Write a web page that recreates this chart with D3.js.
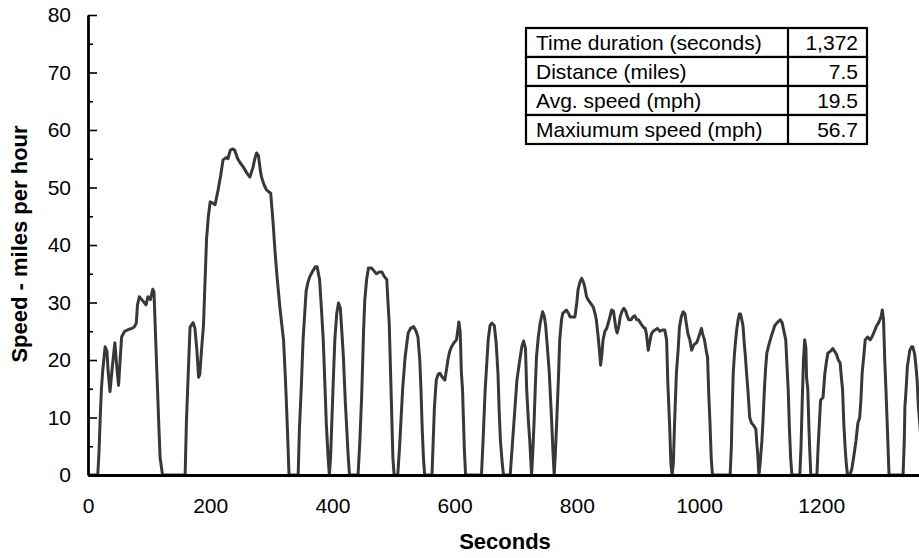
<!doctype html>
<html>
  <head>
    <meta charset="utf-8" />
    <title>Driving cycle speed trace</title>
    <style>
      body {
        margin: 0;
        background: #fff;
      }
      svg {
        display: block;
      }
      text {
        font-family: "Liberation Sans", Arial, sans-serif;
        fill: #000;
      }
    </style>
  </head>
  <body>
    <svg id="chart"></svg>
    <script src="https://d3js.org/d3.v7.min.js"></script>
    <script>
      // time (s) and speed (mph)
      const seconds = [
        0, 16, 18, 20, 22, 24, 28, 31, 33, 36, 40, 44, 47, 50, 52, 55, 60, 66,
        72, 76, 79, 81, 84, 88, 92, 95, 98, 102, 106, 108, 112, 116, 118, 122,
        159, 161, 164, 167, 172, 175, 178, 181, 183, 186, 189, 191, 194, 197,
        200, 204, 208, 213, 217, 221, 226, 229, 233, 237, 240, 245, 249, 254,
        260, 265, 270, 273, 276, 279, 282, 284, 288, 292, 299, 303, 306, 309,
        314, 320, 323, 325, 327, 329, 344, 346, 349, 352, 357, 360, 363, 368,
        372, 375, 379, 382, 385, 388, 390, 393, 395, 397, 399, 402, 404, 407,
        410, 413, 416, 418, 421, 423, 426, 428, 442, 445, 448, 451, 453, 456,
        459, 464, 468, 472, 477, 481, 485, 489, 491, 493, 496, 499, 501, 507,
        510, 512, 515, 519, 524, 528, 533, 537, 540, 543, 545, 547, 549, 551,
        563, 565, 567, 570, 573, 576, 580, 584, 587, 589, 592, 595, 599, 603,
        605, 607, 609, 610, 611, 613, 616, 618, 644, 647, 650, 653, 655, 658,
        661, 665, 668, 671, 673, 675, 678, 680, 691, 693, 695, 699, 702, 706,
        710, 713, 716, 718, 721, 723, 726, 728, 730, 732, 734, 737, 740, 744,
        747, 749, 752, 755, 759, 761, 763, 765, 767, 770, 772, 775, 777, 783,
        787, 789, 797, 800, 802, 805, 808, 811, 813, 816, 819, 823, 827, 830,
        832, 835, 837, 839, 841, 843, 846, 849, 853, 857, 860, 862, 864, 866,
        869, 871, 874, 877, 880, 882, 885, 889, 892, 895, 898, 901, 905, 909,
        912, 914, 917, 920, 922, 925, 928, 932, 936, 940, 944, 947, 949, 952,
        954, 956, 958, 960, 963, 966, 968, 971, 974, 977, 979, 982, 985, 988,
        991, 993, 996, 998, 1001, 1004, 1006, 1009, 1012, 1014, 1016, 1018,
        1020, 1022, 1051, 1053, 1054, 1056, 1058, 1060, 1062, 1064, 1066, 1068,
        1070, 1072, 1074, 1076, 1078, 1080, 1083, 1086, 1089, 1093, 1095, 1096,
        1098, 1100, 1103, 1105, 1107, 1109, 1111, 1114, 1118, 1121, 1124, 1128,
        1133, 1136, 1138, 1140, 1142, 1144, 1146, 1148, 1150, 1152, 1165, 1167,
        1169, 1171, 1173, 1175, 1176, 1178, 1180, 1181, 1183, 1193, 1195, 1197,
        1199, 1203, 1206, 1209, 1211, 1215, 1219, 1222, 1225, 1228, 1231, 1233,
        1235, 1237, 1239, 1241, 1243, 1247, 1250, 1253, 1257, 1260, 1263, 1265,
        1267, 1270, 1272, 1276, 1280, 1283, 1286, 1289, 1291, 1294, 1296, 1298,
        1300, 1302, 1304, 1306, 1308, 1309, 1311, 1334, 1336, 1337, 1339, 1341,
        1345, 1348, 1350, 1353, 1355, 1357, 1359, 1362, 1365, 1367, 1369,
      ];
      const speed = [
        0, 0, 4, 10, 15, 18, 22.3, 21.5, 18, 14.5, 19, 23, 19, 15.6, 19, 24,
        25, 25.3, 25.5, 25.8, 26.4, 29.6, 31, 30.5, 30, 29.6, 31, 30.5, 32.3,
        31.8, 20, 8.4, 3, 0, 0, 9, 17.5, 25.7, 26.5, 25.5, 22, 17, 17.5, 22, 26,
        32, 41, 45, 47.5, 47.3, 47, 49.6, 52, 54.8, 55.2, 55, 56.5, 56.7, 56.5,
        55, 54.3, 53.6, 52.5, 51.8, 53.5, 55, 56, 55.5, 53, 51.8, 50.5, 49.6,
        49, 43.8, 39, 35, 29.2, 23.5, 17, 11.8, 6, 0, 0, 8, 15, 23.5, 32, 33.5,
        34.5, 35.5, 36.2, 36.2, 34, 29, 23.5, 15, 9, 3, 0, 3, 9, 18, 23.5, 28,
        29.9, 29, 24, 20.5, 13, 9, 3, 0, 0, 6, 14, 25, 30.4, 34, 36, 36, 35.5,
        35, 35.3, 35.3, 34.5, 34, 30, 26.4, 14.8, 3, 0, 0, 5, 9, 15, 20.5,
        24.7, 25.5, 25.8, 25, 24, 20, 14.8, 8, 3, 0, 0, 6, 11.8, 16.5, 17.5,
        17.7, 17, 16.5, 18.5, 20, 21.5, 22.3, 23, 23.5, 25, 26.6, 25, 22, 18,
        14.8, 4.3, 0, 0, 7, 14.8, 20, 23.5, 26, 26.4, 26, 23, 17.7, 11, 6, 2,
        0, 0, 3, 6, 12, 16.5, 19.5, 22.3, 23.3, 22, 14.8, 9, 6, 0, 4, 9, 15,
        20.5, 24, 26.4, 28.4, 27.5, 26, 22, 17.7, 9, 4, 0, 4, 9, 17, 23.5, 27,
        28.1, 28.7, 28, 27.5, 27.5, 30, 32.2, 33.5, 34.2, 33.5, 32.7, 31, 30.4,
        29.8, 29.2, 28, 27, 24, 21.7, 19.1, 21, 23.5, 25, 25.5, 27, 28.7, 28.5,
        27, 25.5, 24.7, 26, 27.5, 28.5, 29, 28.5, 27.8, 27, 27, 27.5, 27.7, 27,
        27, 26.3, 25.7, 25.5, 24.5, 21.7, 23.5, 24.5, 25, 25.2, 25.5, 25, 25.2,
        25.2, 23.5, 16, 8.4, 2, 0, 2, 9, 17.7, 22, 25.7, 27.5, 28.4, 28, 26.5,
        24.5, 23.5, 21.7, 22.5, 22.8, 23, 23.5, 24.5, 25.5, 24.5, 23.5, 21.5,
        20.5, 14, 9, 3, 0, 0, 5, 10, 17.7, 21, 23.5, 25.5, 27, 28, 28, 27, 26,
        23, 20.5, 17.5, 14.8, 10, 9, 8.7, 8, 5, 3.8, 0, 2, 6, 10, 14.8, 18.5,
        21.2, 22.5, 24, 25, 26, 26.5, 27, 26.5, 25.5, 24.5, 23.5, 19, 14.8, 8,
        3, 0, 0, 5, 13, 20, 23.5, 22, 17, 15, 8, 5, 0, 0, 5, 9, 13, 13.5, 17.7,
        20, 21.2, 21.5, 22, 21.5, 21, 20, 19.5, 17, 14.8, 9, 5, 2, 0, 0, 1, 3,
        6, 9, 10, 13, 17.7, 21, 23.5, 24, 23.5, 24, 24.7, 25.5, 26, 26.5, 27,
        27.5, 28.7, 27, 20, 14.8, 9, 6, 0, 0, 6, 11.8, 15, 18.8, 21.7, 22.3,
        22.3, 21, 19, 16.5, 12, 8, 4, 1, 0,
      ];

      const yTicks = [0, 10, 20, 30, 40, 50, 60, 70, 80];
      const yMinorTicks = [5, 15, 25, 35, 45, 55, 65, 75];
      const xTicks = [0, 200, 400, 600, 800, 1000, 1200];

      const tableLabels = [
        "Time duration (seconds)",
        "Distance (miles)",
        "Avg. speed (mph)",
        "Maxiumum speed (mph)",
      ];
      const tableValues = ["1,372", "7.5", "19.5", "56.7"];

      const width = 919;
      const height = 558;
      const plotLeft = 88;
      const plotTop = 15;
      const plotBottom = 475;

      const svg = d3
        .select("#chart")
        .attr("width", width)
        .attr("height", height);

      const x = d3
        .scaleLinear()
        .domain([0, 1400])
        .range([plotLeft, plotLeft + 1400 * 0.611]);
      const y = d3.scaleLinear().domain([0, 80]).range([plotBottom, plotTop]);

      // speed trace
      const points = seconds.map((t, i) => [t, speed[i]]);
      const line = d3
        .line()
        .x((d) => x(d[0]))
        .y((d) => y(d[1]));

      svg
        .append("path")
        .datum(points)
        .attr("d", line)
        .attr("fill", "none")
        .attr("stroke", "#383838")
        .attr("stroke-width", 3)
        .attr("stroke-linejoin", "round");

      // y axis: labelled ticks pointing inside, short minor ticks
      const yAxis = svg
        .append("g")
        .attr("transform", `translate(${plotLeft},0)`)
        .call(
          d3
            .axisLeft(y)
            .tickValues(yTicks)
            .tickSizeInner(-9)
            .tickSizeOuter(0)
            .tickPadding(17),
        );
      yAxis.selectAll("line").attr("stroke-width", 1.6);
      yAxis.select(".domain").attr("stroke-width", 2.8);
      yAxis
        .selectAll("text")
        .style("font-size", "21px")
        .attr("fill", "#000");

      const yMinor = svg
        .append("g")
        .attr("transform", `translate(${plotLeft},0)`)
        .call(
          d3
            .axisLeft(y)
            .tickValues(yMinorTicks)
            .tickSizeInner(-5)
            .tickSizeOuter(0)
            .tickFormat(""),
        );
      yMinor.select(".domain").remove();
      yMinor.selectAll("line").attr("stroke-width", 1.6);

      // x axis: no tick marks, just labels
      const xAxis = svg
        .append("g")
        .attr("transform", `translate(0,${plotBottom})`)
        .call(
          d3
            .axisBottom(x)
            .tickValues(xTicks)
            .tickFormat(d3.format("d"))
            .tickSize(0)
            .tickPadding(23),
        );
      xAxis.select(".domain").attr("stroke-width", 2.8);
      xAxis
        .selectAll("text")
        .style("font-size", "21px")
        .attr("fill", "#000");

      svg
        .append("text")
        .attr("x", 505)
        .attr("y", 549)
        .attr("text-anchor", "middle")
        .style("font-size", "22px")
        .style("font-weight", "bold")
        .text("Seconds");

      svg
        .append("text")
        .attr("transform", "translate(27,244) rotate(-90)")
        .attr("text-anchor", "middle")
        .style("font-size", "22px")
        .style("font-weight", "bold")
        .text("Speed - miles per hour");

      // summary table
      const tX = 526;
      const tY = 28;
      const tW = 341;
      const rowH = 29;
      const splitX = 788;
      const table = svg.append("g");

      table
        .selectAll("rect")
        .data(tableLabels)
        .join("rect")
        .attr("x", tX)
        .attr("y", (d, i) => tY + i * rowH)
        .attr("width", tW)
        .attr("height", rowH)
        .attr("fill", "#fff")
        .attr("stroke", "#000")
        .attr("stroke-width", 2.2);

      table
        .append("line")
        .attr("x1", splitX)
        .attr("x2", splitX)
        .attr("y1", tY)
        .attr("y2", tY + rowH * tableLabels.length)
        .attr("stroke", "#000")
        .attr("stroke-width", 2.2);

      table
        .selectAll("text.label")
        .data(tableLabels)
        .join("text")
        .attr("class", "label")
        .attr("x", tX + 10)
        .attr("y", (d, i) => tY + i * rowH + 22)
        .style("font-size", "21px")
        .text((d) => d);

      table
        .selectAll("text.value")
        .data(tableValues)
        .join("text")
        .attr("class", "value")
        .attr("x", tX + tW - 9)
        .attr("y", (d, i) => tY + i * rowH + 22)
        .attr("text-anchor", "end")
        .style("font-size", "21px")
        .text((d) => d);
    </script>
  </body>
</html>
